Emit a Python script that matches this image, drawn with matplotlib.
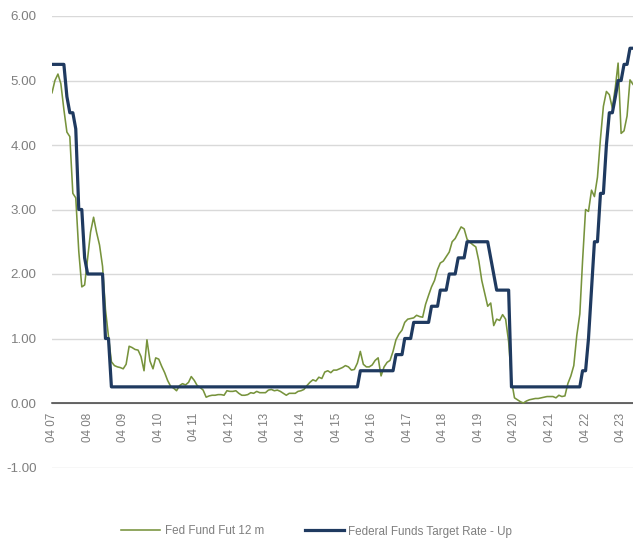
import matplotlib
matplotlib.use("Agg")
import matplotlib.pyplot as plt
import matplotlib.dates as mdates
import numpy as np
import pandas as pd

plt.rcParams["font.family"] = ["Liberation Sans", "DejaVu Sans"]

# monthly observations, Apr 2007 .. Aug 2023
months = pd.date_range("2007-04-01", "2023-08-01", freq="MS")

# Fed Fund Fut 12 m (implied rate), one value per month
fed_fut_12m = [
    4.81, 5.00, 5.10, 4.95, 4.55, 4.20, 4.13, 3.25, 3.18,                    # 2007
    2.35, 1.80, 1.83, 2.25, 2.65, 2.88, 2.65, 2.45, 2.12, 1.45, 1.03, 0.64,  # 2008
    0.58, 0.56, 0.55, 0.53, 0.60, 0.88, 0.86, 0.83, 0.82, 0.72, 0.50, 0.98,  # 2009
    0.65, 0.53, 0.70, 0.68, 0.57, 0.47, 0.35, 0.26, 0.23, 0.19, 0.27, 0.30,  # 2010
    0.28, 0.32, 0.41, 0.35, 0.27, 0.24, 0.20, 0.09, 0.11, 0.12, 0.12, 0.13,  # 2011
    0.13, 0.12, 0.19, 0.18, 0.18, 0.19, 0.15, 0.12, 0.12, 0.13, 0.16, 0.15,  # 2012
    0.18, 0.16, 0.16, 0.16, 0.20, 0.21, 0.19, 0.20, 0.18, 0.15, 0.12, 0.15,  # 2013
    0.15, 0.15, 0.18, 0.19, 0.21, 0.27, 0.32, 0.36, 0.34, 0.40, 0.38, 0.48,  # 2014
    0.50, 0.47, 0.51, 0.51, 0.53, 0.55, 0.58, 0.56, 0.51, 0.52, 0.62, 0.80,  # 2015
    0.60, 0.56, 0.56, 0.59, 0.66, 0.70, 0.42, 0.56, 0.63, 0.66, 0.80, 0.98,  # 2016
    1.07, 1.13, 1.25, 1.30, 1.31, 1.32, 1.36, 1.34, 1.33, 1.53, 1.67, 1.80,  # 2017
    1.90, 2.07, 2.17, 2.20, 2.27, 2.34, 2.50, 2.55, 2.64, 2.73, 2.70, 2.54,  # 2018
    2.49, 2.45, 2.42, 2.20, 1.90, 1.70, 1.50, 1.55, 1.20, 1.30, 1.28, 1.37,  # 2019
    1.30, 0.95, 0.35, 0.08, 0.05, 0.02, 0.00, 0.03, 0.05, 0.06, 0.07, 0.07,  # 2020
    0.08, 0.09, 0.10, 0.10, 0.10, 0.08, 0.12, 0.10, 0.11, 0.30, 0.42, 0.58,  # 2021
    1.05, 1.38, 2.20, 3.00, 2.97, 3.30, 3.20, 3.50, 4.10, 4.60, 4.83, 4.78,  # 2022
    4.57, 4.90, 5.27, 4.18, 4.22, 4.45, 5.01, 4.94,                          # 2023
]

# Federal Funds Target Rate - Up: month of change and new level
target_change = [
    "2007-04", "2007-09", "2007-10", "2007-12", "2008-01", "2008-03", "2008-04",
    "2008-10", "2008-12", "2015-12", "2016-12", "2017-03", "2017-06", "2017-12",
    "2018-03", "2018-06", "2018-09", "2018-12", "2019-08", "2019-09", "2019-10",
    "2020-03", "2022-03", "2022-05", "2022-06", "2022-07", "2022-09", "2022-11",
    "2022-12", "2023-02", "2023-03", "2023-05", "2023-07",
]
target_level = [
    5.25, 4.75, 4.50, 4.25, 3.00, 2.25, 2.00,
    1.00, 0.25, 0.50, 0.75, 1.00, 1.25, 1.50,
    1.75, 2.00, 2.25, 2.50, 2.25, 2.00, 1.75,
    0.25, 0.50, 1.00, 1.75, 2.50, 3.25, 4.00,
    4.50, 4.75, 5.00, 5.25, 5.50,
]

y_ticks = [-1, 0, 1, 2, 3, 4, 5, 6]

GREEN = "#77933c"
NAVY = "#1f3a60"
LABEL_GREY = "#7f7f7f"
GRID_GREY = "#d9d9d9"


def expand_steps(index, change_months, levels):
    starts = pd.to_datetime(change_months)
    pos = np.searchsorted(starts.values, index.values, side="right") - 1
    return np.asarray(levels)[pos]


def main() -> None:
    target = expand_steps(months, target_change, target_level)

    fig = plt.figure(figsize=(6.33, 5.42), dpi=100)
    ax = fig.add_axes([52 / 633, 1 - 467.5 / 542, 581 / 633, (467.5 - 16) / 542])

    ax.plot(months, fed_fut_12m, color=GREEN, lw=1.15, label="Fed Fund Fut 12 m", zorder=3)
    ax.plot(months, target, color=NAVY, lw=2.3, label="Federal Funds Target Rate - Up", zorder=4)

    ax.set_xlim(months[0], months[-1])
    ax.set_ylim(-1, 6)
    ax.set_yticks(y_ticks)
    ax.yaxis.set_major_formatter(plt.FuncFormatter(lambda v, _: f"{v:.2f}"))
    ax.grid(axis="y", color=GRID_GREY, lw=1.0, zorder=0)
    ax.set_axisbelow(True)

    ax.xaxis.set_major_locator(mdates.MonthLocator(bymonth=4))
    ax.xaxis.set_major_formatter(mdates.DateFormatter("%m %y"))

    for side in ("left", "right", "top"):
        ax.spines[side].set_visible(False)
    ax.spines["bottom"].set_position(("data", 0))
    ax.spines["bottom"].set_color("#404040")
    ax.spines["bottom"].set_linewidth(1.1)
    ax.spines["bottom"].set_zorder(2)

    ax.tick_params(axis="y", length=0, pad=11, labelsize=9.6, labelcolor=LABEL_GREY)
    ax.tick_params(axis="x", length=0, pad=7, labelsize=8.4, labelcolor=LABEL_GREY,
                   labelrotation=90)

    fig.legend(
        loc="center",
        bbox_to_anchor=(0.5, 1 - 531.5 / 542),
        ncol=2,
        frameon=False,
        fontsize=8.4,
        handlelength=3.4,
        handletextpad=0.35,
        columnspacing=3.5,
        labelcolor=LABEL_GREY,
    )

    fig.savefig("out.png", dpi=100)


if __name__ == "__main__":
    main()
